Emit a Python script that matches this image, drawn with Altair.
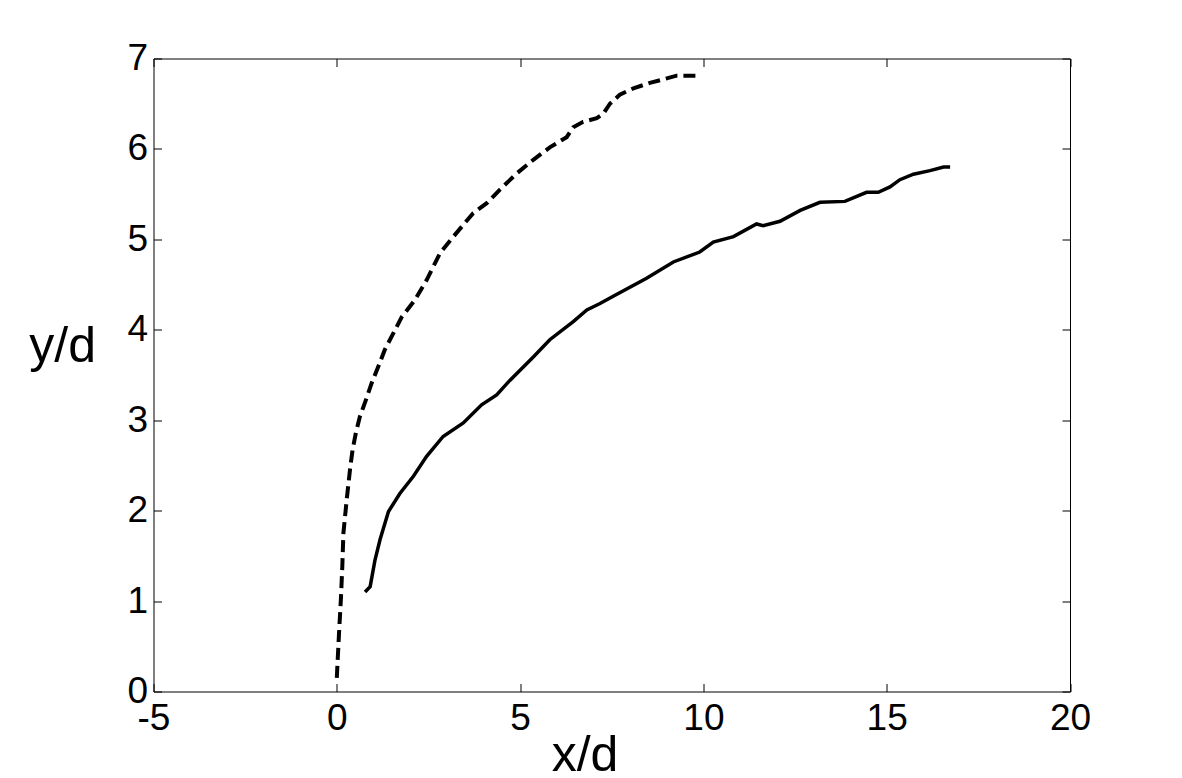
import altair as alt
import pandas as pd

# dashed curve (upper)
dash_x = [0.0, 0.06, 0.11, 0.15, 0.18, 0.27, 0.37, 0.43, 0.52, 0.63, 0.79, 0.95, 1.13, 1.31, 1.54,
          1.77, 2.13, 2.45, 2.82, 3.18, 3.72, 4.09, 4.45, 4.91, 5.36, 5.82, 6.27, 6.45, 6.72,
          7.09, 7.27, 7.45, 7.72, 8.09, 8.54, 9.0, 9.27, 9.87]
dash_y = [0.15, 0.64, 1.01, 1.38, 1.75, 2.12, 2.49, 2.67, 2.86, 3.04, 3.22, 3.41, 3.59, 3.78, 3.96,
          4.14, 4.33, 4.55, 4.85, 5.03, 5.29, 5.40, 5.55, 5.73, 5.88, 6.02, 6.13, 6.24, 6.30,
          6.34, 6.39, 6.50, 6.60, 6.67, 6.73, 6.78, 6.81, 6.81]

# solid curve (lower)
solid_x = [0.77, 0.91, 1.04, 1.18, 1.41, 1.72, 2.09, 2.45, 2.90, 3.45, 3.95, 4.36, 4.72, 5.36,
           5.81, 6.45, 6.82, 7.18, 7.54, 8.45, 9.18, 9.90, 10.27, 10.82, 11.45, 11.63, 12.09,
           12.64, 13.18, 13.86, 14.45, 14.77, 15.09, 15.36, 15.73, 16.18, 16.55, 16.73]
solid_y = [1.10, 1.16, 1.45, 1.68, 1.99, 2.19, 2.38, 2.60, 2.82, 2.97, 3.17, 3.28, 3.44, 3.70,
           3.89, 4.09, 4.22, 4.29, 4.37, 4.57, 4.75, 4.86, 4.97, 5.03, 5.17, 5.15, 5.20,
           5.32, 5.41, 5.42, 5.52, 5.52, 5.58, 5.66, 5.72, 5.76, 5.80, 5.80]

x_ticks = [-5, 0, 5, 10, 15, 20]
y_ticks = [0, 1, 2, 3, 4, 5, 6, 7]

dash_df = pd.DataFrame({"x": dash_x, "y": dash_y, "i": range(len(dash_x))})
solid_df = pd.DataFrame({"x": solid_x, "y": solid_y, "i": range(len(solid_x))})

FONT = "Liberation Sans"
xscale = alt.Scale(domain=[-5, 20], nice=False, zero=False)
yscale = alt.Scale(domain=[0, 7], nice=False, zero=False)

common = dict(offset=-8, tickSize=8, domain=False, grid=False, tickColor="black",
              tickWidth=1, labelFont=FONT, labelFontSize=37, labelColor="black",
              labelFlush=False, labelOverlap=False,
              labelExpr="datum.value < 0 ? '-' + format(abs(datum.value), 'd') : datum.label")

x_bottom = alt.Axis(orient="bottom", values=x_ticks, labelPadding=9, labelBaseline="top",
                    title="x/d", titleFont=FONT, titleFontSize=50, titleFontWeight="normal",
                    titleColor="black", titleX=431, titleY=87, titleAlign="center",
                    titleBaseline="alphabetic", titleAnchor="start", **common)
y_left = alt.Axis(orient="left", values=y_ticks, labelPadding=6, title="y/d", titleFont=FONT,
                  titleFontSize=50, titleFontWeight="normal", titleColor="black", titleAngle=0,
                  titleX=-66, titleY=303, titleAlign="right", titleBaseline="alphabetic",
                  titleAnchor="start", **common)
x_top = alt.Axis(orient="top", values=x_ticks, labels=False, title=None, offset=-8, tickSize=8,
                 domain=False, grid=False, tickColor="black", tickWidth=1)
y_right = alt.Axis(orient="right", values=y_ticks, labels=False, title=None, offset=-8, tickSize=8,
                   domain=False, grid=False, tickColor="black", tickWidth=1)

dashed = alt.Chart(dash_df).mark_line(color="black", strokeWidth=4, strokeDash=[12, 6],
                                      strokeCap="butt").encode(
    x=alt.X("x:Q", scale=xscale, axis=x_bottom),
    y=alt.Y("y:Q", scale=yscale, axis=y_left),
    order="i:Q",
)

solid = alt.Chart(solid_df).mark_line(color="black", strokeWidth=3.5).encode(
    x=alt.X("x:Q", scale=xscale, axis=x_top),
    y=alt.Y("y:Q", scale=yscale, axis=y_right),
    order="i:Q",
)

chart = alt.layer(dashed, solid).resolve_axis(x="independent", y="independent").properties(
    width=916.5, height=633,
    autosize=alt.AutoSizeParams(type="none"),
    padding={"left": 145.5, "top": 50.5, "right": 100, "bottom": 110},
    background="white",
).configure_view(stroke="black", strokeWidth=1)

chart.save("out.html", embed_options={"renderer": "svg", "actions": False})
